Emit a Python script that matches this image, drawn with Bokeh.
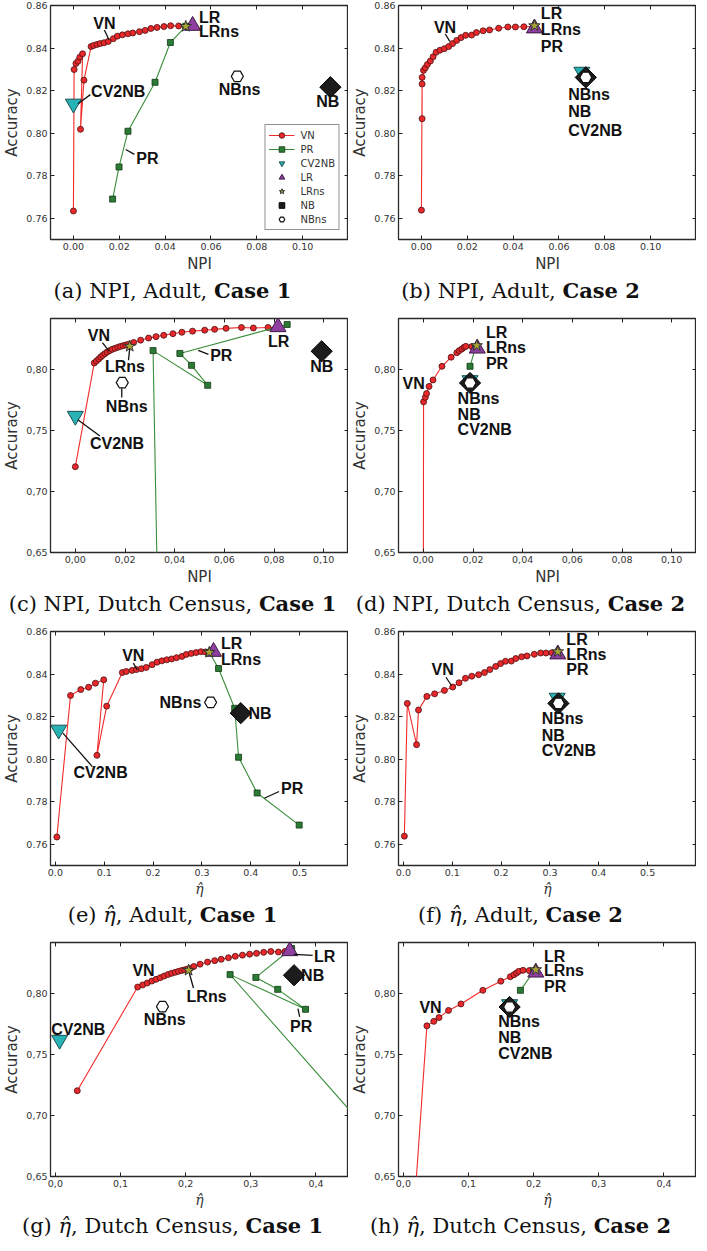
import numpy as np
from bokeh.plotting import figure
from bokeh.models import Range1d, FixedTicker, LinearAxis, CustomJSTickFormatter, Div
from bokeh.layouts import column, row
from bokeh.embed import file_html
from bokeh.resources import INLINE
from bokeh.core.properties import value

# ------------------------------------------------------------------ data
marker_names = ["CV2NB", "LR", "LRns", "NB", "NBns"]

npi_ticks = [0.0, 0.02, 0.04, 0.06, 0.08, 0.10]
eta_ticks_adult = [0.0, 0.1, 0.2, 0.3, 0.4, 0.5]
eta_ticks_dutch = [0.0, 0.1, 0.2, 0.3, 0.4]
acc_ticks_adult = [0.76, 0.78, 0.80, 0.82, 0.84, 0.86]
acc_ticks_dutch = [0.65, 0.70, 0.75, 0.80]

# Adult, Case 1
adult1_vn_acc = [0.7634, 0.8299, 0.8327, 0.8338, 0.8357, 0.8373, 0.8018, 0.8249, 0.8407, 0.8412,
                 0.8417, 0.8421, 0.8425, 0.8431, 0.8444, 0.8456, 0.8462, 0.8467, 0.8471, 0.8477,
                 0.8483, 0.8492, 0.8497, 0.8501, 0.8505, 0.8504, 0.8503]
adult1_vn_npi = [0.0, 0.0003, 0.0011, 0.0020, 0.0028, 0.0040, 0.0031, 0.0046, 0.0077, 0.0088,
                 0.0103, 0.0117, 0.0134, 0.0152, 0.0174, 0.0192, 0.0214, 0.0238, 0.0259, 0.0288,
                 0.0313, 0.0338, 0.0365, 0.0395, 0.0424, 0.0459, 0.0490]
adult1_vn_eta = [0.003, 0.031, 0.052, 0.068, 0.082, 0.099, 0.085, 0.105, 0.137, 0.145,
                 0.157, 0.166, 0.176, 0.186, 0.198, 0.208, 0.218, 0.228, 0.238, 0.248,
                 0.259, 0.268, 0.278, 0.288, 0.298, 0.307, 0.316]
adult1_pr_acc = [0.8502, 0.8426, 0.8239, 0.8009, 0.7841, 0.7690]
adult1_pr_npi = [0.0490, 0.0423, 0.0356, 0.0238, 0.0199, 0.0171]
adult1_pr_eta = [0.315, 0.334, 0.367, 0.375, 0.413, 0.499]
adult1_mk_acc = [0.8138, 0.8505, 0.8502, 0.8216, 0.8267]
adult1_mk_npi = [0.0, 0.052, 0.049, 0.1121, 0.0715]
adult1_mk_eta = [0.0067, 0.3237, 0.315, 0.3794, 0.3177]

# Adult, Case 2
adult2_vn_acc = [0.7638, 0.8262, 0.8068, 0.8231, 0.8295, 0.8307, 0.8323, 0.8339, 0.8359, 0.8380,
                 0.8390, 0.8397, 0.8407, 0.8421, 0.8436, 0.8449, 0.8460, 0.8461, 0.8473, 0.8481,
                 0.8485, 0.8493, 0.8499, 0.8499, 0.8500, 0.8501]
adult2_vn_npi = [0.0, 0.0003, 0.0003, 0.0003, 0.0009, 0.0017, 0.0026, 0.0039, 0.0051, 0.0064,
                 0.0081, 0.0100, 0.0119, 0.0136, 0.0154, 0.0173, 0.0193, 0.0219, 0.0240, 0.0269,
                 0.0297, 0.0337, 0.0377, 0.0410, 0.0447, 0.0490]
adult2_vn_eta = [0.002, 0.008, 0.027, 0.031, 0.048, 0.064, 0.084, 0.101, 0.114, 0.127,
                 0.140, 0.154, 0.166, 0.177, 0.189, 0.199, 0.209, 0.221, 0.230, 0.242,
                 0.253, 0.268, 0.281, 0.292, 0.304, 0.315]
adult2_pr_acc = [0.8497]
adult2_pr_npi = [0.0493]
adult2_pr_eta = [0.3161]
adult2_mk_acc = [0.8288, 0.8493, 0.8505, 0.8262, 0.8262]
adult2_mk_npi = [0.0700, 0.0493, 0.0493, 0.0717, 0.0717]
adult2_mk_eta = [0.3148, 0.3161, 0.3161, 0.3174, 0.3174]

# Dutch Census, Case 1
dutch1_vn_acc = [0.7205,
                 0.8057, 0.8074, 0.8090, 0.8106, 0.8120, 0.8134, 0.8147, 0.8160, 0.8170, 0.8178,
                 0.8186, 0.8193, 0.8199, 0.8205, 0.8211,
                 0.8226, 0.8245, 0.8262, 0.8274, 0.8285, 0.8298, 0.8310, 0.8319, 0.8327, 0.8334,
                 0.8342, 0.8349, 0.8345, 0.8349, 0.8352]
dutch1_vn_npi = [0.0,
                 0.0076, 0.0085, 0.0094, 0.0102, 0.0110, 0.0119, 0.0128, 0.0139, 0.0149, 0.0160,
                 0.0171, 0.0181, 0.0192, 0.0203, 0.0214,
                 0.0235, 0.0263, 0.0295, 0.0325, 0.0356, 0.0393, 0.0429, 0.0472, 0.0521, 0.0561,
                 0.0607, 0.0669, 0.0717, 0.0776, 0.0816]
dutch1_vn_eta = [0.0336,
                 0.1263, 0.1340, 0.1410, 0.1480, 0.1545, 0.1610, 0.1670, 0.1730, 0.1785, 0.1840,
                 0.1890, 0.1940, 0.1985, 0.2030, 0.2075,
                 0.2125, 0.2221, 0.2336, 0.2446, 0.2546, 0.2657, 0.2762, 0.2872, 0.2982, 0.3088,
                 0.3198, 0.3308, 0.3424, 0.3524, 0.3599]
dutch1_pr_acc = [0.8374, 0.8136, 0.8038, 0.7874, 0.8159, 0.5500]
dutch1_pr_npi = [0.0853, 0.0421, 0.0468, 0.0533, 0.0313, 0.0337]
dutch1_pr_eta = [0.3627, 0.3078, 0.3414, 0.3840, 0.2682, 0.7060]
dutch1_mk_acc = [0.7622, 0.8353, 0.8195, 0.8154, 0.7896]
dutch1_mk_npi = [0.0, 0.0816, 0.0219, 0.0992, 0.0189]
dutch1_mk_eta = [0.0065, 0.3599, 0.2045, 0.3664, 0.1644]

# Dutch Census, Case 2
dutch2_vn_acc = [0.6200, 0.7738, 0.7775, 0.7806, 0.7865, 0.7918, 0.8030, 0.8105, 0.8142, 0.8158,
                 0.8172, 0.8186, 0.8194, 0.8192]
dutch2_vn_npi = [0.0, 0.0001, 0.0008, 0.0013, 0.0023, 0.0039, 0.0075, 0.0112, 0.0135, 0.0144,
                 0.0155, 0.0164, 0.0171, 0.0195]
dutch2_vn_eta = [0.0162, 0.0361, 0.0467, 0.0547, 0.0693, 0.0884, 0.1220, 0.1496, 0.1642, 0.1697,
                 0.1737, 0.1772, 0.1837, 0.1933]
dutch2_pr_acc = [0.8030, 0.8185]
dutch2_pr_npi = [0.0188, 0.0210]
dutch2_pr_eta = [0.1797, 0.2000]
dutch2_mk_acc = [0.7915, 0.8177, 0.8200, 0.7893, 0.7893]
dutch2_mk_npi = [0.0188, 0.0217, 0.0215, 0.0188, 0.0188]
dutch2_mk_eta = [0.1631, 0.2033, 0.2033, 0.1631, 0.1631]

# ------------------------------------------------------------------ styles
MK_STYLE = {
    "CV2NB": dict(marker="inverted_triangle", size=16, fill_color="#27b3b6", line_color="#1d4f52", line_width=1),
    "LR": dict(marker="triangle", size=16, fill_color="#8e3f9f", line_color="#3b1a44", line_width=1),
    "LRns": dict(marker="star", size=12, fill_color="#a8a535", line_color="#333333", line_width=1),
    "NB": dict(marker="square", angle=np.pi / 4, size=15, fill_color="#1c1c1c", line_color="#000000", line_width=1),
    "NBns": dict(marker="hex", size=12, fill_color="#ffffff", line_color="#111111", line_width=1.2),
}
LBL_FONT = value("Liberation Sans")
ETA = "\u03b7\u0302"


def style_axis(ax, ticks, decimals, comma, show):
    ax.ticker = FixedTicker(ticks=ticks, minor_ticks=[])
    if show:
        code = f"return tick.toFixed({decimals})" + (".replace('.', ',')" if comma else "") + ";"
    else:
        code = "return '';"
    ax.formatter = CustomJSTickFormatter(code=code)
    ax.major_tick_in = 4
    ax.major_tick_out = 0
    ax.major_tick_line_color = "#222222"
    ax.major_tick_line_width = 1
    ax.minor_tick_line_color = None
    ax.axis_line_color = None
    ax.major_label_text_font = "DejaVu Sans"
    ax.major_label_text_font_size = "9.5px" if show else "0px"
    ax.major_label_text_color = "#333333"
    ax.major_label_standoff = 3 if show else 0


def make_panel(xr, yr, xt, yt, xdec, comma, xlabel,
               vn_x, vn_y, pr_x, pr_y, mk_x, mk_y, labels, callouts, legend=False):
    p = figure(frame_width=298, frame_height=234, x_range=Range1d(*xr), y_range=Range1d(*yr),
               output_backend="svg", toolbar_location=None,
               min_border_left=42, min_border_right=0, min_border_top=5, min_border_bottom=28)
    p.grid.visible = False
    p.outline_line_color = "#2a2a2a"
    p.outline_line_width = 1.3
    p.background_fill_color = "white"
    p.border_fill_color = "white"

    xa = p.xaxis[0]
    ya = p.yaxis[0]
    style_axis(xa, xt, xdec, comma, True)
    style_axis(ya, yt, 2, comma, True)
    xa.axis_label = xlabel
    ya.axis_label = "Accuracy"
    for ax in (xa, ya):
        ax.axis_label_text_font = "DejaVu Sans"
        ax.axis_label_text_font_style = "normal"
        ax.axis_label_text_font_size = "15px"
        ax.axis_label_text_color = "#333333"
        ax.axis_label_standoff = 2
    if xlabel == ETA:
        xa.axis_label_text_font = "DejaVu Serif"
        xa.axis_label_text_font_style = "italic"
        xa.axis_label_text_font_size = "14px"

    top = LinearAxis()
    style_axis(top, xt, xdec, comma, False)
    p.add_layout(top, "above")
    right = LinearAxis()
    style_axis(right, yt, 2, comma, False)
    p.add_layout(right, "right")

    kw = (lambda n: dict(legend_label=n)) if legend else (lambda n: {})
    p.line(vn_x, vn_y, line_color="#f22a2a", line_width=1.1, **kw("VN"))
    p.scatter(vn_x, vn_y, marker="circle", size=6, fill_color="#e8282b",
              line_color="#4a1010", line_width=0.8, **kw("VN"))
    p.line(pr_x, pr_y, line_color="#3a8d3a", line_width=1.1, **kw("PR"))
    p.scatter(pr_x, pr_y, marker="square", size=6, fill_color="#2b7a36",
              line_color="#123a12", line_width=0.8, **kw("PR"))
    for i, name in enumerate(marker_names):
        p.scatter([mk_x[i]], [mk_y[i]], **MK_STYLE[name], **kw(name))

    if callouts:
        p.segment([c[0] for c in callouts], [c[1] for c in callouts],
                  [c[2] for c in callouts], [c[3] for c in callouts],
                  line_color="#111111", line_width=1.3)
    for align in ("left", "center"):
        sel = [l for l in labels if l[3] == align]
        if sel:
            p.text([l[1] for l in sel], [l[2] for l in sel], text=[l[0] for l in sel],
                   text_font=LBL_FONT, text_font_style="bold", text_font_size="16px",
                   text_color="#111111", text_align=align, text_baseline="middle")

    if legend:
        lg = p.legend[0]
        lg.location = "bottom_right"
        lg.margin = 9
        lg.padding = 3
        lg.spacing = 0
        lg.label_text_font = "DejaVu Sans"
        lg.label_text_font_size = "10px"
        lg.label_text_color = "#333333"
        lg.label_height = 14
        lg.glyph_height = 14
        lg.glyph_width = 26
        lg.label_standoff = 6
        lg.border_line_color = "#222222"
        lg.border_line_width = 1
        lg.background_fill_alpha = 1
    return p


def caption(html):
    return Div(text=f'<div style="width:345px;text-align:center;font-family:\'DejaVu Serif\';'
                    f'font-size:21px;line-height:26px;color:#111;padding-top:3px">{html}</div>',
               width=345, height=38, margin=(0, 0, 0, 0))


pa = make_panel((-0.01, 0.12), (0.75, 0.86), npi_ticks, acc_ticks_adult, 2, False, "NPI",
                adult1_vn_npi, adult1_vn_acc, adult1_pr_npi, adult1_pr_acc, adult1_mk_npi, adult1_mk_acc,
                [("VN", 0.0135, 0.8517, "center"), ("LR", 0.0548, 0.8544, "left"),
                 ("LRns", 0.0548, 0.8478, "left"), ("CV2NB", 0.0077, 0.8197, "left"),
                 ("NBns", 0.0725, 0.8205, "center"), ("NB", 0.111, 0.8147, "center"),
                 ("PR", 0.0274, 0.7880, "left")],
                [(0.0135, 0.8485, 0.0155, 0.8439), (0.0074, 0.8181, 0.0020, 0.8138),
                 (0.0266, 0.7900, 0.0228, 0.7923)], legend=True)

pb = make_panel((-0.01, 0.12), (0.75, 0.86), npi_ticks, acc_ticks_adult, 2, False, "NPI",
                adult2_vn_npi, adult2_vn_acc, adult2_pr_npi, adult2_pr_acc, adult2_mk_npi, adult2_mk_acc,
                [("VN", 0.0103, 0.8498, "center"), ("LR", 0.0521, 0.8564, "left"),
                 ("LRns", 0.0521, 0.8486, "left"), ("PR", 0.0521, 0.8408, "left"),
                 ("NBns", 0.0640, 0.8181, "left"), ("NB", 0.0640, 0.8100, "left"),
                 ("CV2NB", 0.0640, 0.8014, "left")],
                [(0.0104, 0.8466, 0.0124, 0.8431)])

pc = make_panel((-0.01, 0.11), (0.65, 0.8423), npi_ticks, acc_ticks_dutch, 2, True, "NPI",
                dutch1_vn_npi, dutch1_vn_acc, dutch1_pr_npi, dutch1_pr_acc, dutch1_mk_npi, dutch1_mk_acc,
                [("VN", 0.0095, 0.8284, "center"), ("LRns", 0.0200, 0.8030, "center"),
                 ("LR", 0.0819, 0.8237, "center"), ("PR", 0.0543, 0.8120, "left"),
                 ("NB", 0.0992, 0.8030, "center"), ("NBns", 0.0207, 0.7700, "center"),
                 ("CV2NB", 0.0168, 0.7397, "center")],
                [(0.0109, 0.8224, 0.0136, 0.8155), (0.0536, 0.8128, 0.0495, 0.8161),
                 (0.0187, 0.7850, 0.0187, 0.7774), (0.0214, 0.8080, 0.0219, 0.8175),
                 (0.0099, 0.7457, 0.0010, 0.7591)])

pd_ = make_panel((-0.01, 0.11), (0.65, 0.8423), npi_ticks, acc_ticks_dutch, 2, True, "NPI",
                 dutch2_vn_npi, dutch2_vn_acc, dutch2_pr_npi, dutch2_pr_acc, dutch2_mk_npi, dutch2_mk_acc,
                 [("VN", -0.0039, 0.7891, "center"), ("LR", 0.0252, 0.8311, "left"),
                  ("LRns", 0.0252, 0.8183, "left"), ("PR", 0.0252, 0.8055, "left"),
                  ("NBns", 0.0138, 0.7765, "left"), ("NB", 0.0138, 0.7632, "left"),
                  ("CV2NB", 0.0138, 0.7512, "left")],
                 [])

pe = make_panel((-0.01, 0.6), (0.75, 0.86), eta_ticks_adult, acc_ticks_adult, 1, False, ETA,
                adult1_vn_eta, adult1_vn_acc, adult1_pr_eta, adult1_pr_acc, adult1_mk_eta, adult1_mk_acc,
                [("VN", 0.1595, 0.8486, "center"), ("LR", 0.3391, 0.8545, "left"),
                 ("LRns", 0.3391, 0.8470, "left"), ("NBns", 0.2560, 0.8268, "center"),
                 ("NB", 0.3954, 0.8216, "left"), ("CV2NB", 0.0925, 0.7937, "center"),
                 ("PR", 0.4846, 0.7863, "center")],
                [(0.1595, 0.8451, 0.1676, 0.8420), (0.0757, 0.7965, 0.0154, 0.8122),
                 (0.4578, 0.7848, 0.4276, 0.7816)])

pf = make_panel((-0.01, 0.6), (0.75, 0.86), eta_ticks_adult, acc_ticks_adult, 1, False, ETA,
                adult2_vn_eta, adult2_vn_acc, adult2_pr_eta, adult2_pr_acc, adult2_mk_eta, adult2_mk_acc,
                [("VN", 0.0805, 0.8420, "center"), ("LR", 0.3336, 0.8561, "left"),
                 ("LRns", 0.3336, 0.8493, "left"), ("PR", 0.3336, 0.8420, "left"),
                 ("NBns", 0.2832, 0.8189, "left"), ("NB", 0.2832, 0.8111, "left"),
                 ("CV2NB", 0.2832, 0.8040, "left")],
                [(0.0872, 0.8385, 0.0987, 0.8345)])

pg = make_panel((-0.0075, 0.45), (0.65, 0.8423), eta_ticks_dutch, acc_ticks_dutch, 1, True, ETA,
                dutch1_vn_eta, dutch1_vn_acc, dutch1_pr_eta, dutch1_pr_acc, dutch1_mk_eta, dutch1_mk_acc,
                [("VN", 0.1353, 0.8194, "center"), ("LR", 0.4135, 0.8309, "center"),
                 ("NB", 0.3950, 0.8153, "center"), ("LRns", 0.2321, 0.7981, "center"),
                 ("NBns", 0.1679, 0.7790, "center"), ("CV2NB", 0.0351, 0.7708, "center"),
                 ("PR", 0.3774, 0.7735, "center")],
                [(0.3664, 0.8325, 0.3950, 0.8317), (0.2120, 0.8049, 0.2055, 0.8172),
                 (0.3750, 0.7811, 0.3724, 0.7880)])

ph = make_panel((-0.0075, 0.45), (0.65, 0.8423), eta_ticks_dutch, acc_ticks_dutch, 1, True, ETA,
                dutch2_vn_eta, dutch2_vn_acc, dutch2_pr_eta, dutch2_pr_acc, dutch2_mk_eta, dutch2_mk_acc,
                [("VN", 0.0417, 0.7885, "center"), ("LR", 0.2159, 0.8311, "left"),
                 ("LRns", 0.2159, 0.8189, "left"), ("PR", 0.2159, 0.8063, "left"),
                 ("NBns", 0.1456, 0.7770, "left"), ("NB", 0.1456, 0.7642, "left"),
                 ("CV2NB", 0.1456, 0.7511, "left")],
                [])

E = f"<i>{ETA}</i>"
caps = [
    "(a) NPI, Adult, <b>Case 1</b>", "(b) NPI, Adult, <b>Case 2</b>",
    "(c) NPI, Dutch Census, <b>Case 1</b>", "(d) NPI, Dutch Census, <b>Case 2</b>",
    f"(e) {E}, Adult, <b>Case 1</b>", f"(f) {E}, Adult, <b>Case 2</b>",
    f"(g) {E}, Dutch Census, <b>Case 1</b>", f"(h) {E}, Dutch Census, <b>Case 2</b>",
]
panels = [pa, pb, pc, pd_, pe, pf, pg, ph]

rows = []
for r in range(4):
    cells = []
    for c in range(2):
        i = 2 * r + c
        cells.append(column(panels[i], caption(caps[i]), spacing=0))
    rows.append(row(*cells, spacing=0))
layout = column(*rows, spacing=0)

open("out.html", "w").write(file_html(layout, INLINE))
